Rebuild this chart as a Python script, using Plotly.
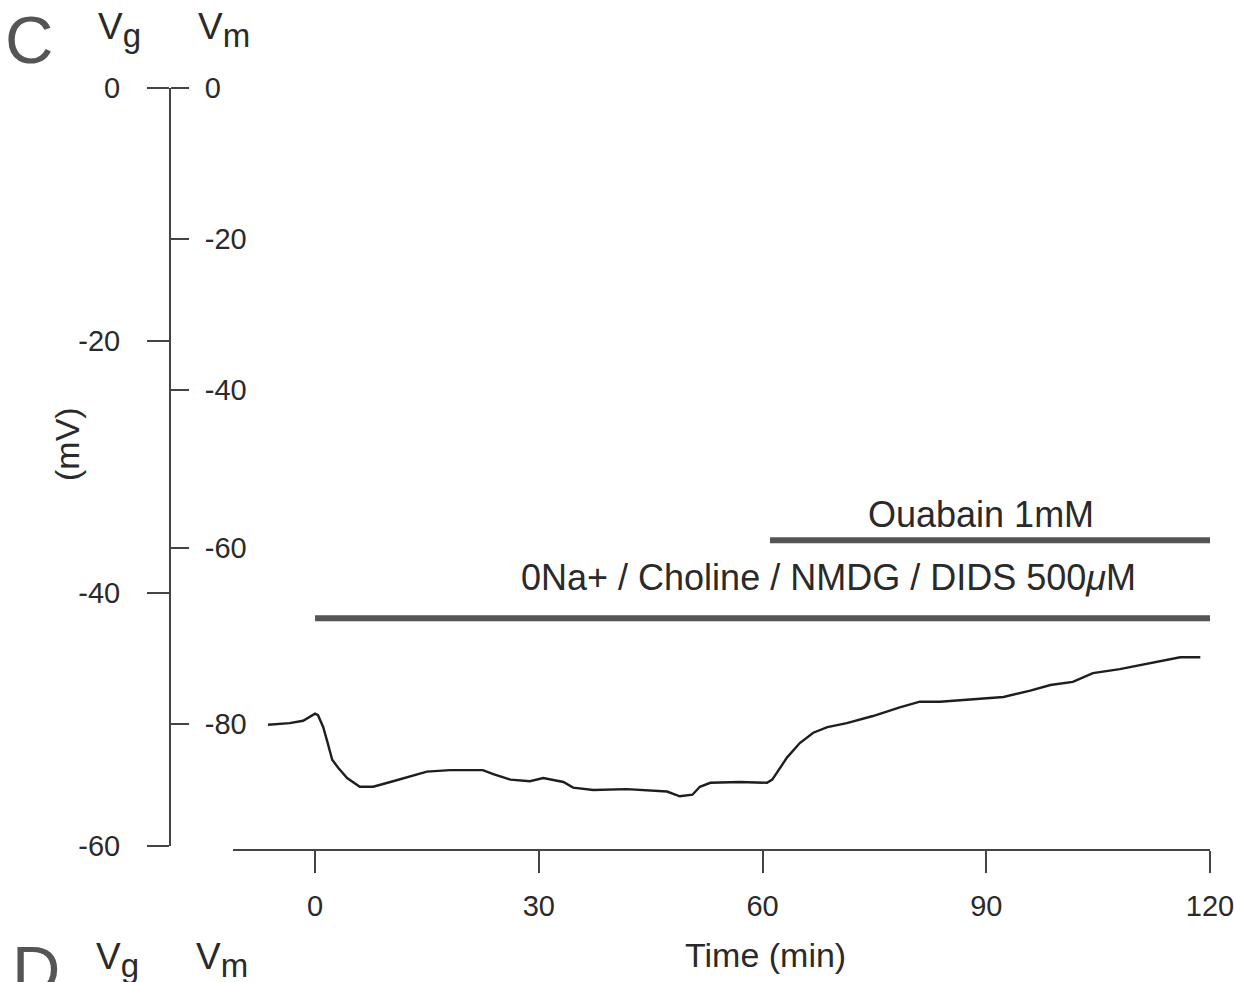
import plotly.graph_objects as go

W, H = 1234, 982

# ---- data ----
time_min = [-6.3, -3.4, -1.6, 0.0, 0.4, 1.1, 1.7, 2.3, 3.1, 4.3, 6.0, 7.8, 10.1, 12.3,
            15.0, 18.1, 22.5, 23.9, 26.2, 28.8, 30.6, 33.3, 34.6, 37.3, 41.8, 47.2,
            48.9, 50.6, 51.6, 53.0, 57.0, 60.6, 61.3, 63.3, 65.0, 66.8, 68.7, 71.3,
            74.8, 78.4, 81.1, 83.8, 88.8, 92.3, 95.9, 98.6, 101.6, 104.3, 107.9,
            110.6, 113.3, 116.0, 118.7]
vm_mV = [-80.1, -79.9, -79.6, -78.7, -78.9, -80.4, -82.4, -84.5, -85.5, -86.8, -87.9,
         -87.9, -87.3, -86.7, -86.0, -85.8, -85.8, -86.3, -87.0, -87.2, -86.8, -87.3,
         -88.0, -88.3, -88.2, -88.5, -89.1, -88.9, -87.9, -87.4, -87.3, -87.4, -87.0,
         -84.2, -82.4, -81.1, -80.4, -79.9, -79.0, -77.9, -77.2, -77.2, -76.9, -76.6,
         -75.8, -75.1, -74.7, -73.6, -73.1, -72.6, -72.1, -71.6, -71.6]

treat_labels = ["0Na+ / Choline / NMDG / DIDS 500<i>\u03bc</i>M", "Ouabain 1mM"]
treat_start = [0, 61]
treat_end = [120, 120]

x_tick_vals = [0, 30, 60, 90, 120]
vg_tick_vals = [0, -20, -40, -60]
vg_tick_labels = ["0", "-20", "-40", "-60"]
vm_tick_labels = ["0", "-20", "-40", "-60", "-80"]
vm_tick_pos = [0, -19.0, -38.0, -57.9, -80.0]   # positions as drawn in the figure

# ---- layout helpers ----
FONT = "Liberation Sans, Arial, Helvetica, sans-serif"
TXT = "#2a2a2a"
LINE = "#444444"
bar_level = [-66.7, -56.9]      # Vm level of the treatment bars
label_level = [-61.6, -53.6]
label_x = [68.9, 89.3]

def px(x):
    return x / W

def py(y):
    return 1 - y / H

fig = go.Figure()

# empty trace so that the Vg axis (y) is drawn
fig.add_trace(go.Scatter(x=[None], y=[None], mode="lines", xaxis="x", yaxis="y",
                         showlegend=False, hoverinfo="skip"))

fig.add_trace(go.Scatter(x=time_min, y=vm_mV, mode="lines",
                         line=dict(color="#1e1e1e", width=2.4),
                         xaxis="x", yaxis="y2", showlegend=False, hoverinfo="skip"))

for i in range(len(treat_labels)):
    fig.add_trace(go.Scatter(x=[treat_start[i], treat_end[i]],
                             y=[bar_level[i], bar_level[i]], mode="lines",
                             line=dict(color="#555555", width=6),
                             xaxis="x", yaxis="y2", showlegend=False, hoverinfo="skip"))
    fig.add_annotation(x=label_x[i], y=label_level[i], xref="x", yref="y2",
                       text=treat_labels[i], showarrow=False,
                       font=dict(family=FONT, size=36, color=TXT))

ydom = [py(846), py(88)]
axpos = px(170)

fig.update_layout(
    width=W, height=H, autosize=False,
    margin=dict(l=0, r=0, t=0, b=0),
    paper_bgcolor="white", plot_bgcolor="white",
    font=dict(family=FONT, color=TXT),
    xaxis=dict(domain=[px(233), px(1210.4)], range=[-11, 120.05], anchor="free",
               position=py(850), showline=True, linecolor=LINE, linewidth=2,
               ticks="outside", ticklen=22, tickwidth=2, tickcolor=LINE,
               tickvals=x_tick_vals, tickfont=dict(size=29, color=TXT),
               ticklabelstandoff=8, ticklabeloverflow="allow", automargin=False,
               showgrid=False, zeroline=False),
    yaxis=dict(domain=ydom, range=[-60, 0], anchor="free", position=axpos,
               side="left", showline=True, linecolor=LINE, linewidth=2,
               ticks="outside", ticklen=22, tickwidth=2, tickcolor=LINE,
               tickvals=vg_tick_vals, ticktext=vg_tick_labels,
               tickfont=dict(size=29, color=TXT),
               ticklabelstandoff=21, automargin=False,
               showgrid=False, zeroline=False),
    yaxis2=dict(domain=ydom, range=[-95.35, 0], anchor="free", position=axpos,
                overlaying="y", side="right", showline=False,
                ticks="outside", ticklen=18, tickwidth=2, tickcolor=LINE,
                tickvals=vm_tick_pos, ticktext=vm_tick_labels,
                tickfont=dict(size=29, color=TXT), ticklabelstandoff=10,
                automargin=False, showgrid=False, zeroline=False),
)

def paper_text(text, x, y, size, xanchor="left", yanchor="top", angle=0, color=TXT):
    fig.add_annotation(x=px(x), y=py(y), xref="paper", yref="paper", text=text,
                       showarrow=False, xanchor=xanchor, yanchor=yanchor,
                       textangle=angle, font=dict(family=FONT, size=size, color=color))

SUB = "<sub><span style='font-size:33px'>{}</span></sub>"
paper_text("C", 3, 0, 67, color="#555555")
paper_text("V" + SUB.format("g"), 96, 4, 37)
paper_text("V" + SUB.format("m"), 196, 4, 37)
paper_text("(mV)", 67, 444, 34, xanchor="center", yanchor="middle", angle=-90)
paper_text("Time (min)", 765, 955, 34, xanchor="center", yanchor="middle")
paper_text("D", 10, 930, 67, color="#555555")
paper_text("V" + SUB.format("g"), 94, 934, 37)
paper_text("V" + SUB.format("m"), 194, 934, 37)

fig.write_html("out.html")
